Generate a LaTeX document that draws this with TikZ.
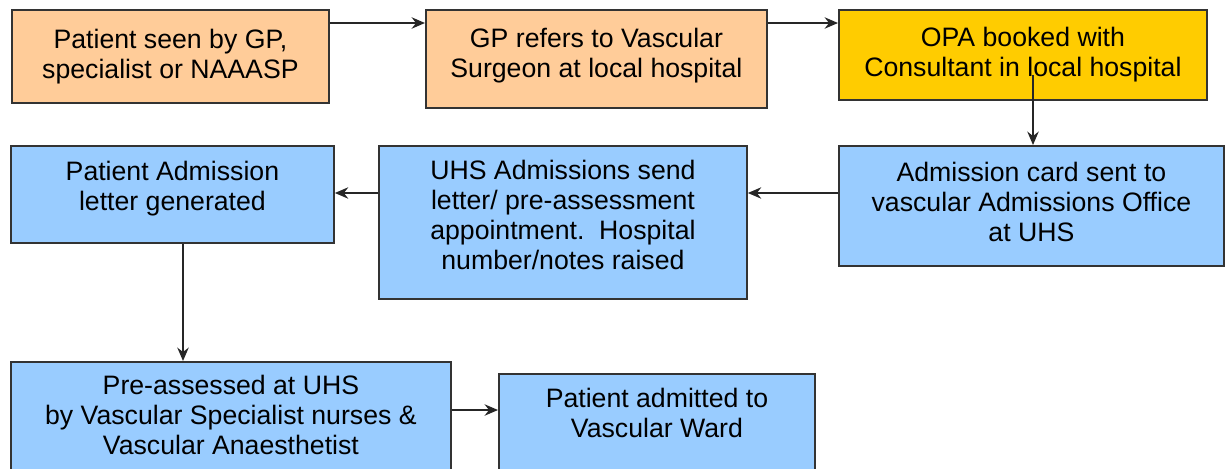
\documentclass[tikz,border=0pt]{standalone}
\usepackage{fontspec}
\setmainfont{Liberation Sans}
\usetikzlibrary{arrows.meta}
\definecolor{peachfill}{HTML}{FFCC99}
\definecolor{goldfill}{HTML}{FFCC00}
\definecolor{bluefill}{HTML}{99CCFF}
\begin{document}
\begin{tikzpicture}[x=0.75pt,y=-0.75pt,
    box/.style={draw=black!80,line width=1.4pt,anchor=north west,align=center,inner sep=0pt,
        font=\fontsize{20}{22.5}\selectfont},
    wh/.style 2 args={minimum width=#1*0.75pt,minimum height=#2*0.75pt},
    flow/.style={-{Stealth[length=10pt,width=8.5pt]},line width=1.5pt,black!85}]
\useasboundingbox (0,0) rectangle (1226,468);
% top row
\node[box,fill=peachfill,wh={317}{93}] (seen) at (11,9) {Patient seen by GP,\\specialist or NAAASP};
\node[box,fill=peachfill,wh={341}{98},text depth=8.9pt] (refer) at (425,9) {GP refers to Vascular\\Surgeon at local hospital};
\node[box,fill=goldfill,wh={368}{90}] (opa) at (838,9) {OPA booked with\\Consultant in local hospital};
% middle row
\node[box,fill=bluefill,wh={323}{97},text depth=13.5pt] (letter) at (10,145) {Patient Admission\\letter generated};
\node[box,fill=bluefill,wh={368}{153},text depth=11.9pt] (uhs) at (378,145) {UHS Admissions send\\letter/ pre-assessment\\appointment.\ \ Hospital\\number/notes raised};
\node[box,fill=bluefill,wh={385}{120},text depth=6pt] (card) at (838,145) {Admission card sent to\\vascular Admissions Office\\at UHS};
% bottom row
\node[box,fill=bluefill,wh={440}{120},text depth=10.4pt] (preass) at (10,361) {Pre-assessed at UHS\\by Vascular Specialist nurses \&\\Vascular Anaesthetist};
\node[box,fill=bluefill,wh={316}{108},text depth=22.4pt] (ward) at (498,373) {Patient admitted to\\Vascular Ward};
% arrows
\draw[flow] ([yshift=-10.5pt]seen.north east) -- ([yshift=-10.5pt]refer.north west);
\draw[flow] ([yshift=-10.5pt]refer.north east) -- ([yshift=-10.5pt]opa.north west);
\draw[flow] ([xshift=146.25pt,yshift=19.5pt]opa.south west) -- ([xshift=146.25pt]card.north west);
\draw[flow] ([yshift=-36pt]card.north west) -- ([yshift=-36pt]uhs.north east);
\draw[flow] ([yshift=-36pt]uhs.north west) -- ([yshift=-36pt]letter.north east);
\draw[flow] ([xshift=129.75pt]letter.south west) -- ([xshift=129.75pt]preass.north west);
\draw[flow] ([yshift=-36.75pt]preass.north east) -- ([yshift=-27.75pt]ward.north west);
\end{tikzpicture}
\end{document}
